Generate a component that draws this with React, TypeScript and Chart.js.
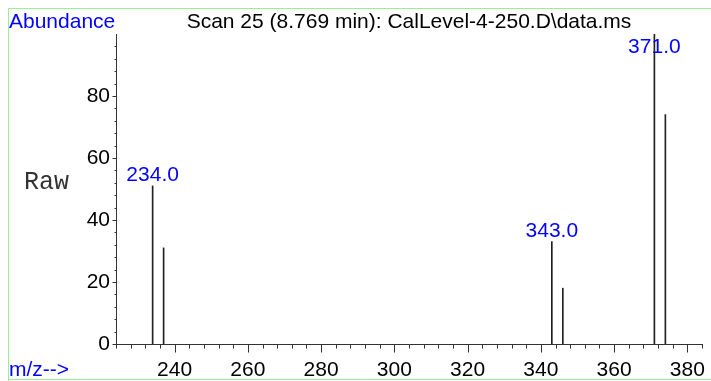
import React, { useEffect, useRef } from "react";
import { Chart, registerables } from "chart.js";

Chart.register(...registerables);

const titleText = "Scan 25 (8.769 min): CalLevel-4-250.D\\data.ms";
const peakMz = [234, 237, 343, 346, 371, 374];
const peakAbundance = [51, 31, 33, 18, 100, 74];
const labeledMz = [234, 343, 371];
const xTickValues = [240, 260, 280, 300, 320, 340, 360, 380];
const yTickValues = [0, 20, 40, 60, 80];
const xMin = 224;
const xMax = 384;
const yMin = 0;
const yMax = 100;
const minorStep = 4;

const SANS = '"Liberation Sans", Arial, Helvetica, sans-serif';
const MONO = '"Liberation Mono", "Courier New", monospace';

const decorPlugin = {
  id: "decor",
  afterDraw(chart: any) {
    const ctx = chart.ctx as CanvasRenderingContext2D;
    const xs = chart.scales.x;
    const ys = chart.scales.y;
    const area = chart.chartArea;
    ctx.save();
    // green frame
    ctx.strokeStyle = "#99ee99";
    ctx.lineWidth = 1;
    ctx.beginPath();
    ctx.moveTo(8.5, 720);
    ctx.lineTo(8.5, 8.5);
    ctx.lineTo(720, 8.5);
    ctx.moveTo(8.5, 379.5);
    ctx.lineTo(720, 379.5);
    ctx.stroke();

    // tick marks
    ctx.strokeStyle = "#333";
    ctx.beginPath();
    const axY = Math.round(ys.getPixelForValue(yMin)) + 0.5;
    for (let v = xMin; v <= xMax; v += minorStep) {
      const px = Math.round(xs.getPixelForValue(v)) + 0.5;
      const major = v % 20 === 0;
      ctx.moveTo(px, axY);
      ctx.lineTo(px, axY + (major ? 8 : 4));
    }
    const axX = Math.round(xs.getPixelForValue(xMin)) + 0.5;
    for (let v = yMin; v < yMax; v += minorStep) {
      const py = Math.round(ys.getPixelForValue(v)) + 0.5;
      const major = v % 20 === 0;
      ctx.moveTo(axX, py);
      ctx.lineTo(axX - (major ? 4 : 2), py);
    }
    ctx.stroke();

    // texts
    ctx.font = `21px ${SANS}`;
    ctx.textBaseline = "alphabetic";
    ctx.fillStyle = "#0000ff";
    ctx.textAlign = "left";
    ctx.fillText("Abundance", 9, 28);
    ctx.fillText("m/z-->", 9, 376);
    ctx.fillStyle = "#000";
    ctx.textAlign = "center";
    ctx.fillText(titleText, (area.left + area.right) / 2, 28);

    ctx.font = `25px ${MONO}`;
    ctx.textAlign = "left";
    ctx.fillStyle = "#333";
    ctx.fillText("Raw", 24, 189);

    // peak labels
    ctx.font = `21px ${SANS}`;
    ctx.fillStyle = "#0000ff";
    ctx.textAlign = "center";
    labeledMz.forEach((mz) => {
      const i = peakMz.indexOf(mz);
      const px = xs.getPixelForValue(mz);
      const py = ys.getPixelForValue(peakAbundance[i]);
      const by = Math.max(py - 5, area.top + 19);
      ctx.fillText(mz.toFixed(1), px, by);
    });
    ctx.restore();
  },
};

export default function App() {
  const ref = useRef<HTMLCanvasElement | null>(null);
  useEffect(() => {
    if (!ref.current) return;
    const chart = new Chart(ref.current, {
      type: "bar",
      data: {
        datasets: [
          {
            data: peakMz.map((m, i) => ({ x: m, y: peakAbundance[i] })),
            backgroundColor: "#222",
            borderWidth: 0,
            barThickness: 1,
          } as any,
        ],
      },
      options: {
        animation: false,
        responsive: false,
        devicePixelRatio: 1,
        layout: { padding: { left: 0, right: 9, top: 34, bottom: 0 } },
        plugins: { legend: { display: false }, tooltip: { enabled: false }, title: { display: false } },
        scales: {
          x: {
            type: "linear",
            min: xMin,
            max: xMax,
            offset: false,
            grid: { display: false, drawTicks: false },
            border: { display: true, color: "#333", width: 1 },
            ticks: {
              color: "#000",
              font: { family: SANS, size: 21 },
              padding: 14,
              autoSkip: false,
              maxRotation: 0,
            },
            afterBuildTicks: (s: any) => {
              s.ticks = xTickValues.map((v) => ({ value: v }));
            },
            afterFit: (s: any) => {
              s.height = 37;
              s.paddingLeft = 0;
              s.paddingRight = 0;
            },
          },
          y: {
            type: "linear",
            min: yMin,
            max: yMax,
            grid: { display: false, drawTicks: false },
            border: { display: true, color: "#333", width: 1 },
            ticks: {
              color: "#000",
              font: { family: SANS, size: 21 },
              padding: 6,
            },
            afterBuildTicks: (s: any) => {
              s.ticks = yTickValues.map((v) => ({ value: v }));
            },
            afterFit: (s: any) => {
              s.width = 116;
              s.paddingTop = 0;
              s.paddingBottom = 0;
            },
          },
        },
      } as any,
      plugins: [decorPlugin],
    });
    return () => chart.destroy();
  }, []);
  return (
    <div style={{ position: "fixed", left: 0, top: 0, width: 711, height: 381, background: "#fff" }}>
      <canvas ref={ref} width={711} height={381} style={{ width: 711, height: 381, display: "block" }} />
    </div>
  );
}
